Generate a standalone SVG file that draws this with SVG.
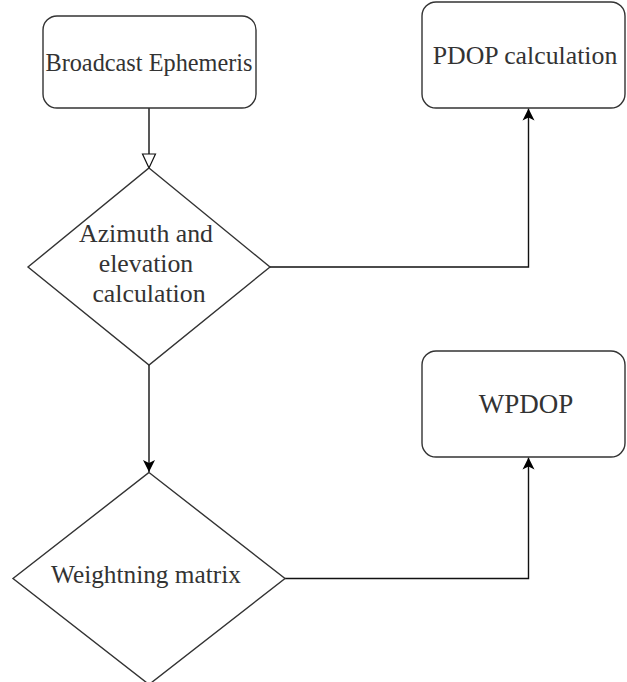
<svg xmlns="http://www.w3.org/2000/svg" width="627" height="682" viewBox="0 0 627 682">
  <style>
    .shape { fill: #ffffff; stroke: #333333; stroke-width: 1.4; }
    .edge { fill: none; stroke: #111111; stroke-width: 1.4; }
    .label { font-family: 'Liberation Serif', 'Times New Roman', serif; font-size: 25.8px; fill: #333333; text-anchor: middle; }
  </style>
  <defs>
    <marker id="arrow-open" markerUnits="userSpaceOnUse" markerWidth="16" markerHeight="16" refX="15" refY="7.5" orient="auto">
      <path d="M1,1 L15,7.5 L1,14 z" fill="#ffffff" stroke="#111111" stroke-width="1.2"/>
    </marker>
    <marker id="arrow-fill" markerUnits="userSpaceOnUse" markerWidth="14" markerHeight="14" refX="12" refY="6.5" orient="auto">
      <path d="M0,0.5 L12,6.5 L0,12.5 L3,6.5 z" fill="#000000"/>
    </marker>
  </defs>

  <rect width="627" height="682" fill="#ffffff"/>

  <g id="connectors">
    <path class="edge" d="M149,108 L149,168" marker-end="url(#arrow-open)"/>
    <path class="edge" d="M270,267 L528.5,267 L528.5,108.5" marker-end="url(#arrow-fill)"/>
    <path class="edge" d="M149,365 L149,472" marker-end="url(#arrow-fill)"/>
    <path class="edge" d="M285,578.5 L528.5,578.5 L528.5,457.5" marker-end="url(#arrow-fill)"/>
  </g>

  <g id="broadcast-ephemeris">
    <rect class="shape" x="43" y="16" width="213" height="92" rx="14" ry="14"/>
    <text class="label" x="149" y="71" style="font-size:24.3px">Broadcast Ephemeris</text>
  </g>

  <g id="pdop-calculation">
    <rect class="shape" x="422" y="2" width="203" height="106" rx="14" ry="14"/>
    <text class="label" x="525" y="64">PDOP calculation</text>
  </g>

  <g id="azimuth-elevation">
    <polygon class="shape" points="149,168 270,267 149,365 28,267"/>
    <text class="label" x="146" y="242">Azimuth and</text>
    <text class="label" x="146" y="272">elevation</text>
    <text class="label" x="149" y="302">calculation</text>
  </g>

  <g id="wpdop">
    <rect class="shape" x="422" y="351" width="203" height="106" rx="14" ry="14"/>
    <text class="label" x="526" y="413" style="font-size:27px">WPDOP</text>
  </g>

  <g id="weighting-matrix">
    <polygon class="shape" points="149,472.5 285,578.5 149,684.5 13,578.5"/>
    <text class="label" x="146" y="583" style="font-size:25.3px">Weightning matrix</text>
  </g>
</svg>
